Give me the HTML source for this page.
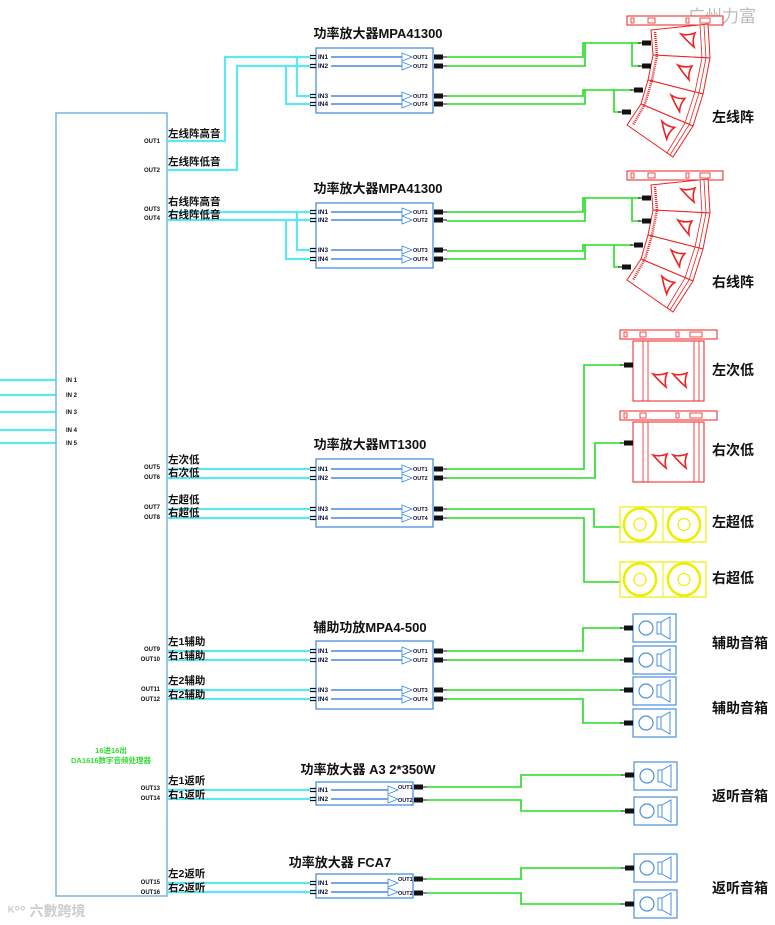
<!DOCTYPE html>
<html><head><meta charset="utf-8"><style>
html,body{margin:0;padding:0;background:#fff;}
svg{display:block;}
text{font-family:"Liberation Sans","Noto Sans CJK SC",sans-serif;}
.t{font-size:13px;font-weight:bold;fill:#111;}
.l{font-size:10.5px;font-weight:bold;fill:#111;}
.s{font-size:6px;font-weight:bold;fill:#111;}
.i{font-size:6.5px;font-weight:bold;fill:#113;}
.o{font-size:5.5px;font-weight:bold;fill:#113;}
.r{font-size:14px;font-weight:bold;fill:#111;}
.cy{stroke:#5ee6f2;stroke-width:2.2;fill:none;}
.gr{stroke:#22dd22;stroke-width:1.6;fill:none;}
.rd{stroke:#ee2222;stroke-width:1;fill:#fff;}
.bx{fill:#fff;stroke:#4a90e0;stroke-width:1.3;}
</style></head><body>
<svg width="775" height="925" viewBox="0 0 775 925" xmlns="http://www.w3.org/2000/svg">
<defs>
<g id="pl"><rect x="0" y="-2.5" width="9" height="5" fill="#111"/><path d="M9 0h4" stroke="#111" stroke-width="1"/></g>
<g id="pr"><rect x="4" y="-2.5" width="9" height="5" fill="#111"/><path d="M0 0h4" stroke="#111" stroke-width="1"/></g>
<g id="ch"><path d="M310 -1.5h6M310 1.5h6" stroke="#111" stroke-width="1.2"/><path d="M331 0H402" stroke="#2a6fd8" stroke-width="1.2"/><path d="M402 -4L412 0L402 4Z" fill="#fff" stroke="#3a8ae8" stroke-width="0.8"/><use href="#pl" x="434"/></g>
<g id="c2"><path d="M310 -1.5h6M310 1.5h6" stroke="#111" stroke-width="1.2"/><path d="M331 0H388" stroke="#2a6fd8" stroke-width="1.2"/><path d="M388 -4L398 0L388 4Z" fill="#fff" stroke="#3a8ae8" stroke-width="0.8"/></g>
<g id="tri"><path d="M-7 -6 Q0 -4 7 -7 Q4 0 6 7 Q0 2 -7 -6Z" fill="#fff" stroke="#e22" stroke-width="1.6"/></g>
<g id="arr">
<rect class="rd" x="627" y="16" width="96" height="9"/>
<rect x="631" y="18" width="3" height="5" fill="none" stroke="#e22" stroke-width=".8"/>
<rect x="648" y="18" width="7" height="5" fill="none" stroke="#e22" stroke-width=".8"/>
<rect x="686" y="18" width="3" height="5" fill="none" stroke="#e22" stroke-width=".8"/>
<rect x="700" y="18" width="10" height="5" fill="none" stroke="#e22" stroke-width=".8"/>
<polygon class="rd" points="651,30 708,24 710,58 653,55"/>
<polygon class="rd" points="653,55 710,58 703,94 648,80"/>
<polygon class="rd" points="648,80 703,94 693,126 641,104"/>
<polygon class="rd" points="641,104 693,126 673,157 627,125"/>
<path d="M700,25 L702,58 L695,92 L685,123 L667,153 M704,25 L706,58 L699,93 L689,125 L670,155" stroke="#e22" stroke-width=".8" fill="none"/>
<path d="M655,32 L657,55 L652,80 L645,104 L633,125" stroke="#e22" stroke-width="2.5" stroke-dasharray="1 1" fill="none"/>
<use href="#tri" x="688" y="40"/>
<use href="#tri" x="684" y="72" transform="rotate(8 684 72)"/>
<use href="#tri" x="676" y="103" transform="rotate(18 676 103)"/>
<use href="#tri" x="665" y="130" transform="rotate(30 665 130)"/>
</g>
<g id="sub">
<rect class="rd" x="620" y="0" width="97" height="9"/>
<rect x="624" y="2" width="3" height="5" fill="none" stroke="#e22" stroke-width=".8"/>
<rect x="640" y="2" width="6" height="5" fill="none" stroke="#e22" stroke-width=".8"/>
<rect x="676" y="2" width="3" height="5" fill="none" stroke="#e22" stroke-width=".8"/>
<rect x="690" y="2" width="12" height="5" fill="none" stroke="#e22" stroke-width=".8"/>
<rect class="rd" x="633" y="11" width="71" height="60"/>
<path d="M643 11V71M648 11V71M694 11V71M699 11V71" stroke="#e22" stroke-width=".8"/>
<use href="#tri" x="660" y="50"/><use href="#tri" x="680" y="50"/>
</g>
<g id="ys">
<rect x="620" y="0" width="86" height="35" fill="#fff" stroke="#ee0" stroke-width="1.2"/>
<path d="M663 0V35" stroke="#ee0" stroke-width="1"/>
<circle cx="640" cy="17.5" r="16" fill="none" stroke="#ee0" stroke-width="2.5"/>
<circle cx="640" cy="17.5" r="6" fill="none" stroke="#ee0" stroke-width="1.2"/>
<circle cx="684" cy="17.5" r="16" fill="none" stroke="#ee0" stroke-width="2.5"/>
<circle cx="684" cy="17.5" r="6" fill="none" stroke="#ee0" stroke-width="1.2"/>
</g>
<g id="sp">
<rect x="0" y="0" width="43" height="28" fill="#fff" stroke="#4a90e0" stroke-width="1.2"/>
<circle cx="13" cy="14" r="7" fill="none" stroke="#4a90e0" stroke-width="1.2"/>
<rect x="24" y="8" width="4" height="12" fill="none" stroke="#4a90e0" stroke-width="1"/>
<path d="M28 8L37 3V25L28 20" fill="none" stroke="#4a90e0" stroke-width="1"/>
</g>
</defs>

<!-- watermarks -->
<text x="688" y="22" font-size="17" fill="#bbb">广州力富</text>
<text x="8" y="916" font-size="14" fill="#ccc" font-weight="bold">ᴷ°° 六數跨境</text>

<!-- input lines -->
<path class="cy" d="M0 380H56M0 395H56M0 412H56M0 430H56M0 443H56"/>
<!-- main box -->
<rect x="56" y="113" width="111" height="783" fill="#fff" stroke="#7ab4e0" stroke-width="1.5"/>
<text class="s" x="66" y="382">IN 1</text><text class="s" x="66" y="397">IN 2</text><text class="s" x="66" y="414">IN 3</text><text class="s" x="66" y="432">IN 4</text><text class="s" x="66" y="445">IN 5</text>
<text x="111" y="753" font-size="7.5" font-weight="bold" fill="#33dd33" text-anchor="middle">16进16出</text>
<text x="111" y="763" font-size="7.5" font-weight="bold" fill="#33dd33" text-anchor="middle">DA1616数字音频处理器</text>
<g class="s" text-anchor="end">
<text x="160" y="143">OUT1</text><text x="160" y="172">OUT2</text><text x="160" y="211">OUT3</text><text x="160" y="220">OUT4</text>
<text x="160" y="469">OUT5</text><text x="160" y="479">OUT6</text><text x="160" y="509">OUT7</text><text x="160" y="519">OUT8</text>
<text x="160" y="651">OUT9</text><text x="160" y="661">OUT10</text><text x="160" y="691">OUT11</text><text x="160" y="701">OUT12</text>
<text x="160" y="790">OUT13</text><text x="160" y="800">OUT14</text><text x="160" y="884">OUT15</text><text x="160" y="894">OUT16</text>
</g>

<!-- cyan routes -->
<path class="cy" d="M167 141H225V57H311M167 170H237V66H311M297 57V96H311M286 66V104H311"/>
<path class="cy" d="M167 212H311M167 220H311M297 212V250H311M286 220V259H311"/>
<path class="cy" d="M167 469H311M167 478H311M167 509H311M167 518H311"/>
<path class="cy" d="M167 651H311M167 660H311M167 690H311M167 699H311"/>
<path class="cy" d="M167 790H311M167 799H311M167 883H311M167 892H311"/>

<!-- line labels -->
<g class="l">
<text x="168" y="137">左线阵高音</text><text x="168" y="165">左线阵低音</text>
<text x="168" y="205">右线阵高音</text><text x="168" y="218">右线阵低音</text>
<text x="168" y="463">左次低</text><text x="168" y="476">右次低</text>
<text x="168" y="503">左超低</text><text x="168" y="516">右超低</text>
<text x="168" y="645">左1辅助</text><text x="168" y="659">右1辅助</text>
<text x="168" y="684">左2辅助</text><text x="168" y="698">右2辅助</text>
<text x="168" y="784">左1返听</text><text x="168" y="798">右1返听</text>
<text x="168" y="877">左2返听</text><text x="168" y="891">右2返听</text>
</g>

<!-- Amp titles -->
<text class="t" x="378" y="38" text-anchor="middle">功率放大器MPA41300</text>
<text class="t" x="378" y="193" text-anchor="middle">功率放大器MPA41300</text>
<text class="t" x="370" y="449" text-anchor="middle">功率放大器MT1300</text>
<text class="t" x="370" y="632" text-anchor="middle">辅助功放MPA4-500</text>
<text class="t" x="368" y="774" text-anchor="middle">功率放大器 A3 2*350W</text>
<text class="t" x="340" y="867" text-anchor="middle">功率放大器 FCA7</text>

<!-- Amp boxes -->
<rect class="bx" x="316" y="48" width="117" height="65"/>
<rect class="bx" x="316" y="203" width="117" height="65"/>
<rect class="bx" x="316" y="459" width="117" height="68"/>
<rect class="bx" x="316" y="641" width="117" height="68"/>
<rect class="bx" x="316" y="782" width="97" height="23"/>
<rect class="bx" x="316" y="874" width="97" height="24"/>

<use href="#ch" y="57"/><use href="#ch" y="66"/><use href="#ch" y="96"/><use href="#ch" y="104"/>
<use href="#ch" y="212"/><use href="#ch" y="220"/><use href="#ch" y="250"/><use href="#ch" y="259"/>
<use href="#ch" y="469"/><use href="#ch" y="478"/><use href="#ch" y="509"/><use href="#ch" y="518"/>
<use href="#ch" y="651"/><use href="#ch" y="660"/><use href="#ch" y="690"/><use href="#ch" y="699"/>
<use href="#c2" y="790"/><use href="#c2" y="799"/><use href="#c2" y="883"/><use href="#c2" y="892"/>
<use href="#pl" x="414" y="787"/><use href="#pl" x="414" y="800"/><use href="#pl" x="414" y="879"/><use href="#pl" x="414" y="893"/>

<g class="i">
<text x="318" y="59">IN1</text><text x="318" y="68">IN2</text><text x="318" y="98">IN3</text><text x="318" y="106">IN4</text>
<text x="318" y="214">IN1</text><text x="318" y="222">IN2</text><text x="318" y="252">IN3</text><text x="318" y="261">IN4</text>
<text x="318" y="471">IN1</text><text x="318" y="480">IN2</text><text x="318" y="511">IN3</text><text x="318" y="520">IN4</text>
<text x="318" y="653">IN1</text><text x="318" y="662">IN2</text><text x="318" y="692">IN3</text><text x="318" y="701">IN4</text>
<text x="318" y="792">IN1</text><text x="318" y="801">IN2</text><text x="318" y="885">IN1</text><text x="318" y="894">IN2</text>
</g>
<g class="o">
<text x="413" y="59">OUT1</text><text x="413" y="68">OUT2</text><text x="413" y="98">OUT3</text><text x="413" y="106">OUT4</text>
<text x="413" y="214">OUT1</text><text x="413" y="222">OUT2</text><text x="413" y="252">OUT3</text><text x="413" y="261">OUT4</text>
<text x="413" y="471">OUT1</text><text x="413" y="480">OUT2</text><text x="413" y="511">OUT3</text><text x="413" y="520">OUT4</text>
<text x="413" y="653">OUT1</text><text x="413" y="662">OUT2</text><text x="413" y="692">OUT3</text><text x="413" y="701">OUT4</text>
<text x="398" y="789">OUT1</text><text x="398" y="802">OUT2</text><text x="398" y="881">OUT1</text><text x="398" y="895">OUT2</text>
</g>

<!-- green outputs: arrays -->
<path class="gr" d="M447 57H583V43H640M447 66H585V43M632 43V66H640M447 96H583V90H632M447 104H585V90M614 90V112H620"/>
<g transform="translate(0,155)"><path class="gr" d="M447 57H583V43H640M447 66H585V43M632 43V66H640M447 96H583V90H632M447 104H585V90M614 90V112H620"/></g>
<use href="#arr"/><use href="#arr" y="155"/>
<g>
<use href="#pr" x="638" y="43"/><use href="#pr" x="638" y="66"/><use href="#pr" x="630" y="90"/><use href="#pr" x="618" y="112"/>
<use href="#pr" x="638" y="198"/><use href="#pr" x="638" y="221"/><use href="#pr" x="630" y="245"/><use href="#pr" x="618" y="267"/>
</g>

<!-- subs -->
<path class="gr" d="M447 469H584V365H622M447 478H595V443H622M447 509H594V527H620M447 518H584V582H620"/>
<use href="#sub" y="330"/><use href="#sub" y="411"/>
<use href="#pr" x="620" y="365"/><use href="#pr" x="620" y="443"/>
<use href="#ys" y="507"/><use href="#ys" y="562"/>

<!-- aux -->
<path class="gr" d="M447 651H583V628H622M447 660H622M447 690H622M447 699H583V723H622"/>
<use href="#sp" x="633" y="614"/><use href="#sp" x="633" y="646"/><use href="#sp" x="633" y="677"/><use href="#sp" x="633" y="709"/>
<use href="#pr" x="620" y="628"/><use href="#pr" x="620" y="660"/><use href="#pr" x="620" y="690"/><use href="#pr" x="620" y="723"/>

<!-- monitors -->
<path class="gr" d="M427 787H521V775H622M427 800H521V811H622M427 879H521V868H622M427 893H521V904H622"/>
<use href="#sp" x="634" y="762"/><use href="#sp" x="634" y="797"/><use href="#sp" x="634" y="854"/><use href="#sp" x="634" y="890"/>
<use href="#pr" x="621" y="775"/><use href="#pr" x="621" y="811"/><use href="#pr" x="621" y="868"/><use href="#pr" x="621" y="904"/>

<!-- right labels -->
<g class="r">
<text x="712" y="122">左线阵</text><text x="712" y="287">右线阵</text>
<text x="712" y="375">左次低</text><text x="712" y="455">右次低</text>
<text x="712" y="527">左超低</text><text x="712" y="583">右超低</text>
<text x="712" y="648">辅助音箱</text><text x="712" y="713">辅助音箱</text>
<text x="712" y="801">返听音箱</text><text x="712" y="893">返听音箱</text>
</g>
</svg>
</body></html>
